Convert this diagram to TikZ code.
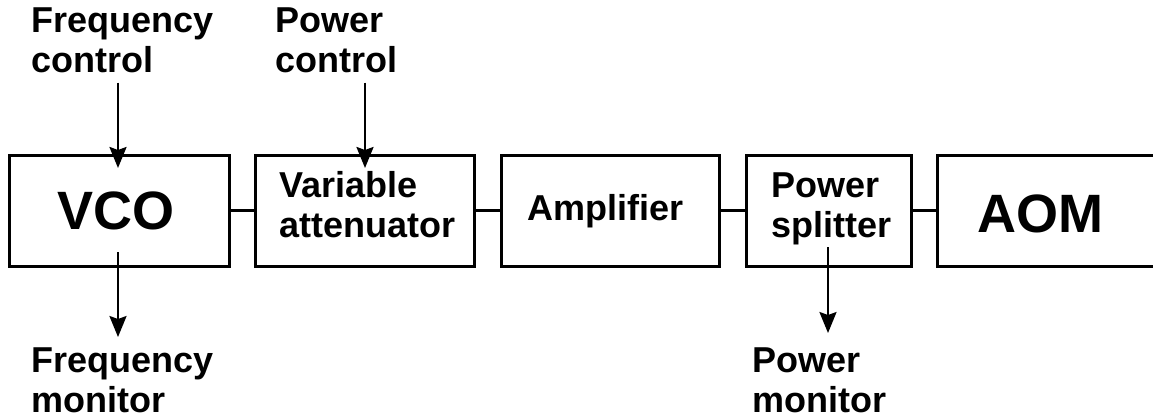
\documentclass[tikz,border=0pt]{standalone}
\usepackage{fontspec}
\setmainfont{Liberation Sans}
\usetikzlibrary{arrows.meta}
\begin{document}
\begin{tikzpicture}[x=1pt,y=-1pt,
  blk/.style={draw, line width=3pt, inner sep=0pt, minimum height=111pt},
  txt/.style={inner sep=0pt, anchor=base west, align=left, font=\bfseries\fontsize{36}{40}\selectfont},
  big/.style={inner sep=0pt, anchor=base west, font=\bfseries\fontsize{54}{60}\selectfont},
  link/.style={line width=2.4pt},
  sig/.style={line width=2.4pt, -{Stealth[length=21pt,width=17pt,inset=3pt]}}]
\useasboundingbox (0,0) rectangle (1153,418);
% boxes
\node[blk, minimum width=220pt] (vco) at (119,210.5) {};
\node[blk, minimum width=219pt] (att) at (364.5,210.5) {};
\node[blk, minimum width=218pt] (amp) at (610,210.5) {};
\node[blk, minimum width=165pt] (spl) at (828.5,210.5) {};
\node[blk, minimum width=240pt] (aom) at (1057,210.5) {};
% box texts
\node[big] (vcot) at (57,229) {VCO};
\node[txt] (attt) at (279,237) {Variable\\attenuator};
\node[txt] (ampt) at (527,220) {Amplifier};
\node[txt] (splt) at (771,237) {Power\\splitter};
\node[big] (aomt) at (977,232) {AOM};
% outer labels
\node[txt] (fc) at (31,72) {Frequency\\control};
\node[txt] (pc) at (275,72) {Power\\control};
\node[txt] (fm) at (31,412) {Frequency\\monitor};
\node[txt] (pm) at (752,412) {Power\\monitor};
% connectors
\draw[link] (vco.east) -- (att.west);
\draw[link] (att.east) -- (amp.west);
\draw[link] (amp.east) -- (spl.west);
\draw[link] (spl.east) -- (aom.west);
% signal arrows
\coordinate (vcoin) at (118,168);
\coordinate (attin) at (365,168);
\coordinate (vcoout) at (118,252);
\coordinate (splout) at (828,247);
\draw[sig, shorten <=10pt] (fc.south -| vcoin) -- (vcoin);
\draw[sig, shorten <=10pt] (pc.south -| attin) -- (attin);
\draw[sig, shorten >=10pt] (vcoout) -- (fm.north -| vcoout);
\draw[sig, shorten >=14pt] (splout) -- (pm.north -| splout);
\end{tikzpicture}
\end{document}
